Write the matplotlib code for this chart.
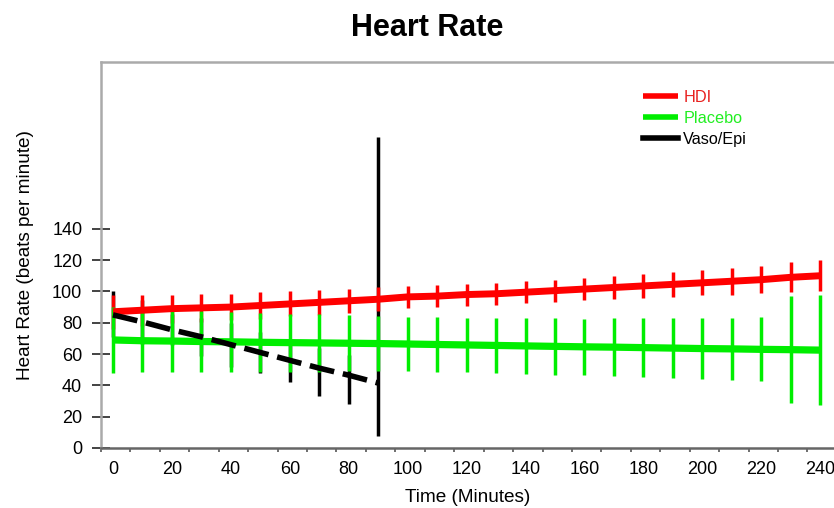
import numpy as np
import matplotlib
matplotlib.use('Agg')
import matplotlib.pyplot as plt

plt.rcParams['font.family'] = ['Liberation Sans', 'DejaVu Sans']

# time points (minutes)
t_all = [0, 10, 20, 30, 40, 50, 60, 70, 80, 90, 100, 110, 120, 130, 140,
         150, 160, 170, 180, 190, 200, 210, 220, 230, 240]
t_vaso = [0, 10, 20, 30, 40, 50, 60, 70, 80, 90]

hdi = [87, 88, 89, 89.5, 90, 91, 92, 93, 94, 95, 96.5, 97, 98, 98.5, 99.5,
       100.5, 101.5, 102.5, 103.5, 104.5, 105.5, 106.5, 107.5, 109, 110]
hdi_err = [11, 10, 9, 9, 8.5, 8.5, 8, 8, 7.5, 7.5, 7, 7, 7, 7, 7,
           7, 7, 7.5, 7.5, 8, 8, 8.5, 8.5, 9.5, 10]

placebo = [69, 68.5, 68.3, 68, 67.8, 67.5, 67.3, 67.1, 66.9, 66.7, 66.4, 66.1,
           65.8, 65.5, 65.2, 64.9, 64.6, 64.4, 64.1, 63.8, 63.5, 63.3, 63, 62.8, 62.5]
placebo_err = [21, 20, 20, 19.5, 19, 19, 18.5, 18.5, 18, 17.5, 17.5, 17.5, 17.5,
               17.5, 18, 18, 18, 18.5, 19, 19, 19.5, 20, 20.5, 34, 35]

vaso = [85, 80.5, 75.5, 71, 66, 61, 56, 51, 46.5, 41.5]
vaso_lo = [14, 14, 10, 12, 14, 13, 13.6, 18, 18.5, 34]
vaso_hi = [15, 14, 10, 12, 14, 13, 13, 13, 13, 157]

fig = plt.figure(figsize=(8.34, 5.08), dpi=100)
ax = fig.add_axes([101/834, 60/508, 733/834, 386/508])

ax.errorbar(t_vaso, vaso, yerr=[vaso_lo, vaso_hi], fmt='none', ecolor='black',
            elinewidth=2.5, capsize=0, zorder=1)
ax.errorbar(t_all, hdi, yerr=hdi_err, fmt='none', ecolor='red',
            elinewidth=2.5, capsize=0, zorder=2)
ax.errorbar(t_all, placebo, yerr=placebo_err, fmt='none', ecolor='#00ee00',
            elinewidth=2.5, capsize=0, zorder=3)

ax.plot(t_all, hdi, color='red', lw=5, label='HDI', zorder=4,
        solid_capstyle='butt')
ax.plot(t_all, placebo, color='#00ee00', lw=5.2, label='Placebo', zorder=4,
        solid_capstyle='butt')
ax.plot(t_vaso, vaso, color='black', lw=4, ls=(0, (4.5, 1.6)),
        label='Vaso/Epi', zorder=5)

ax.set_xlim(-4.07, 244.7)
ax.set_ylim(0, 246.5)

ax.set_xticks(np.arange(0, 241, 20))
ax.set_xticks(np.arange(-4.07, 244, 9.99), minor=True)
ax.tick_params(axis='x', which='major', length=0, pad=9, labelsize=13)
ax.tick_params(axis='x', which='minor', length=3, width=1.2, color='#555555')
ax.set_yticks(np.arange(0, 141, 20))
ax.tick_params(axis='y', direction='inout', length=13, width=1.2,
               color='#222222', labelsize=13, pad=7)

for s in ['left', 'top']:
    ax.spines[s].set_color('#aaaaaa')
    ax.spines[s].set_linewidth(1.8)
ax.spines['bottom'].set_color('#666666')
ax.spines['bottom'].set_linewidth(1.8)
ax.spines['right'].set_visible(False)

ax.set_xlabel('Time (Minutes)', fontsize=13.7, labelpad=8)
ax.set_ylabel('Heart Rate (beats per minute)', fontsize=13.7, labelpad=13)
fig.text(427/834, 1 - 28/508, 'Heart Rate', fontsize=22, fontweight='bold',
         ha='center', va='center')

leg = ax.legend(loc='upper left', bbox_to_anchor=(0.72, 0.965), frameon=False,
                fontsize=11.7, handlelength=2.15, handletextpad=0.3,
                labelspacing=0.35)
for txt, c in zip(leg.get_texts(), ['#e8201e', '#22ee22', 'black']):
    txt.set_color(c)
for ln in leg.get_lines():
    ln.set_linestyle('-')
    ln.set_linewidth(4)

fig.savefig('out.png', dpi=100)
